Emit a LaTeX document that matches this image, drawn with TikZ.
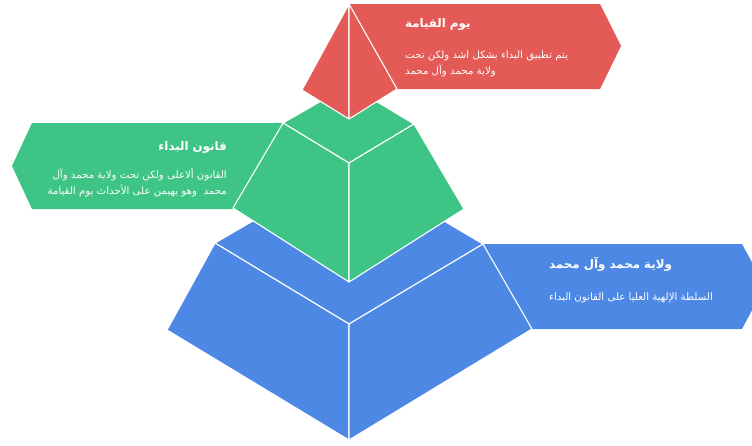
\documentclass[tikz,border=0pt]{standalone}
\usepackage{fontspec}
\TeXXeTstate=1
\newfontfamily\arabicfont[Script=Arabic]{DejaVu Sans}
\definecolor{topred}{RGB}{227,90,86}
\definecolor{midgreen}{RGB}{62,196,133}
\definecolor{baseblue}{RGB}{77,136,229}
\tikzset{
  face/.style={fill=#1, draw=white, line width=1.1pt, line join=round},
  banner/.style={fill=#1, draw=none},
  title/.style={text=white, inner sep=0pt, font=\arabicfont\bfseries\fontsize{11.8}{14}\selectfont},
  body/.style={text=white, inner sep=0pt, font=\arabicfont\fontsize{10.2}{12}\selectfont},
}
\begin{document}
\begin{tikzpicture}[x=1pt, y=-1pt]
\useasboundingbox (0,0) rectangle (752,445);
\begin{scope}
\clip (0,0) rectangle (752,445);
% bottom tier
\path[banner=baseblue] (483,244) -- (742,244) -- (765,286) -- (742,329) -- (532,329) -- cycle;
\path[face=baseblue] (215,243) -- (349,165) -- (483,244) -- (349,324) -- cycle;
\path[face=baseblue] (215,243) -- (349,324) -- (349,440) -- (167,330) -- cycle;
\path[face=baseblue] (483,244) -- (532,329) -- (349,440) -- (349,324) -- cycle;
% middle tier
\path[banner=midgreen] (283,123) -- (32,123) -- (12,166) -- (32,209) -- (233,209) -- cycle;
\path[face=midgreen] (283,123) -- (349,85) -- (414,124) -- (349,163) -- cycle;
\path[face=midgreen] (283,123) -- (349,163) -- (349,282) -- (233,208) -- cycle;
\path[face=midgreen] (414,124) -- (464,209) -- (349,282) -- (349,163) -- cycle;
% top tier
\path[banner=topred] (349,4) -- (600,4) -- (621,46) -- (600,89) -- (397,89) -- cycle;
\path[face=topred] (349,4) -- (302,90) -- (349,119) -- cycle;
\path[face=topred] (349,4) -- (349,119) -- (397,89) -- cycle;
\end{scope}
% labels
\node[title, anchor=base west] (t1) at (405,27) {\beginR يوم القيامة\endR};
\node[body, anchor=base west] (b1a) at (405,58) {\beginR يتم تطبيق البداء بشكل اشد ولكن تحت\endR};
\node[body, anchor=base west] (b1b) at (405,74) {\beginR ولاية محمد وآل محمد\endR};
\node[title, anchor=base east] (t2) at (227,150) {\beginR قانون البداء\endR};
\node[body, anchor=base east] (b2a) at (227,178) {\beginR القانون ألاعلى ولكن تحت ولاية محمد وآل\endR};
\node[body, anchor=base east] (b2b) at (227,194) {\beginR محمد \ وهو يهيمن على الأحداث يوم القيامة\endR};
\node[title, anchor=base west] (t3) at (549,268) {\beginR ولاية محمد وآل محمد\endR};
\node[body, anchor=base west] (b3) at (549,300) {\beginR السلطة الإلهية العليا على القانون البداء\endR};
\end{tikzpicture}
\end{document}
